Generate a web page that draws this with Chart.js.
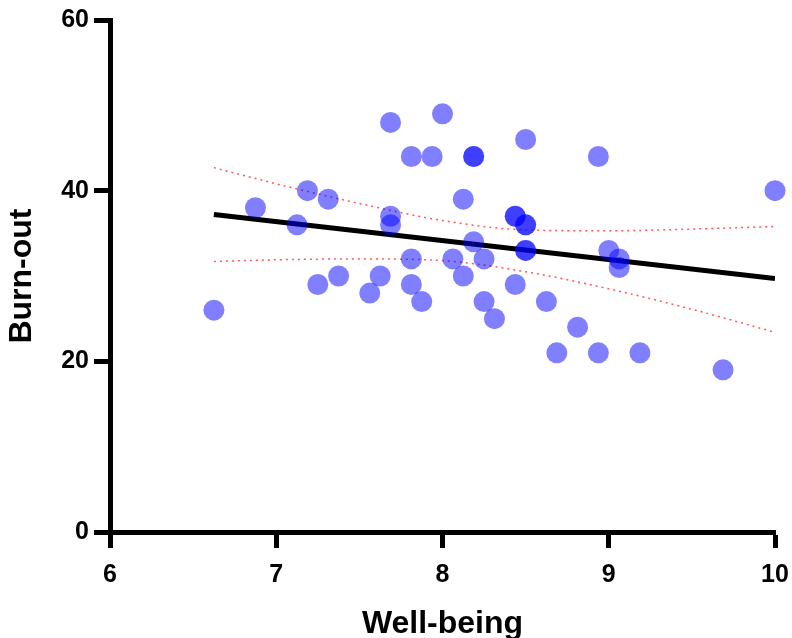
<!DOCTYPE html>
<html>
<head>
<meta charset="utf-8">
<script src="https://cdn.jsdelivr.net/npm/chart.js@4"></script>
<style>
  html, body { margin: 0; padding: 0; background: #fff; }
  #wrap { width: 792px; height: 638px; }
</style>
</head>
<body>
<div id="wrap"><canvas id="scatterChart" width="792" height="638"></canvas></div>
<script>
// data
const wellBeing = [6.625, 6.875, 7.125, 7.1875, 7.25, 7.3125, 7.375, 7.5625, 7.625, 7.6875,
  7.6875, 7.6875, 7.8125, 7.8125, 7.8125, 7.875, 7.9375, 8.0, 8.0625, 8.125,
  8.125, 8.1875, 8.1875, 8.1875, 8.25, 8.25, 8.3125, 8.4375, 8.4375, 8.4375,
  8.5, 8.5, 8.5, 8.5, 8.5, 8.625, 8.6875, 8.8125, 8.9375, 8.9375,
  9.0, 9.0625, 9.0625, 9.1875, 9.6875, 10];
const burnOut = [26, 38, 36, 40, 29, 39, 30, 28, 30, 48,
  37, 36, 44, 32, 29, 27, 44, 49, 32, 39,
  30, 44, 44, 34, 32, 27, 25, 37, 37, 29,
  46, 36, 36, 33, 33, 27, 21, 24, 44, 21,
  33, 32, 31, 21, 19, 40];

// linear fit and 95% band
const fitX = [6.625, 10];
const fitY = [37.2, 29.7];
const bandX = [6.625, 7, 7.5, 8, 8.5, 9, 9.5, 10];
const bandUpper = [42.7, 40.8, 38.5, 36.5, 35.4, 35.3, 35.5, 35.8];
const bandLower = [31.7, 31.9, 32.0, 31.8, 30.5, 28.5, 26.1, 23.4];

const xTicks = [6, 7, 8, 9, 10];
const yTicks = [0, 20, 40, 60];

function toPoints(xs, ys) {
  return xs.map((x, i) => ({ x: x, y: ys[i] }));
}

const FONT = "'Liberation Sans', Arial, Helvetica, sans-serif";

const ctx = document.getElementById("scatterChart");

new Chart(ctx, {
  type: "scatter",
  data: {
    datasets: [
      {
        label: "Burn-out",
        data: toPoints(wellBeing, burnOut),
        backgroundColor: "rgba(0, 0, 255, 0.5)",
        borderWidth: 0,
        pointRadius: 10.5,
        order: 0,
        clip: false,
      },
      {
        label: "Fit",
        data: toPoints(fitX, fitY),
        showLine: true,
        borderColor: "#000",
        borderWidth: 5,
        pointRadius: 0,
        order: 1,
      },
      {
        label: "Upper",
        data: toPoints(bandX, bandUpper),
        showLine: true,
        borderColor: "rgba(255, 70, 70, 0.9)",
        borderWidth: 1.5,
        borderDash: [2, 4],
        cubicInterpolationMode: "monotone",
        pointRadius: 0,
        order: 2,
      },
      {
        label: "Lower",
        data: toPoints(bandX, bandLower),
        showLine: true,
        borderColor: "rgba(255, 70, 70, 0.9)",
        borderWidth: 1.5,
        borderDash: [2, 4],
        cubicInterpolationMode: "monotone",
        pointRadius: 0,
        order: 2,
      },
    ],
  },
  options: {
    responsive: false,
    animation: false,
    layout: { padding: { top: 20, right: 17, left: 0, bottom: -5 } },
    plugins: {
      legend: { display: false },
      tooltip: { enabled: false },
    },
    scales: {
      x: {
        type: "linear",
        min: 6,
        max: 10,
        afterFit: (scale) => {
          scale.height = 111;
          scale.paddingLeft = 0;
          scale.paddingRight = 0;
        },
        afterBuildTicks: (scale) => { scale.ticks = xTicks.map((v) => ({ value: v })); },
        border: { display: true, color: "#000", width: 5 },
        grid: { drawOnChartArea: false, drawTicks: true, tickLength: 16, tickWidth: 5, tickColor: "#000" },
        ticks: { color: "#000", padding: 12, font: { family: FONT, size: 25, weight: "bold" } },
        title: {
          display: true,
          text: "Well-being",
          color: "#000",
          padding: { top: 0, bottom: 0 },
          font: { family: FONT, size: 32, weight: "bold" },
        },
      },
      y: {
        type: "linear",
        min: 0,
        max: 60,
        afterFit: (scale) => {
          scale.width = 110;
          scale.paddingTop = 0;
          scale.paddingBottom = 0;
        },
        afterBuildTicks: (scale) => { scale.ticks = yTicks.map((v) => ({ value: v })); },
        border: { display: true, color: "#000", width: 5 },
        grid: { drawOnChartArea: false, drawTicks: true, tickLength: 16, tickWidth: 5, tickColor: "#000" },
        ticks: { color: "#000", padding: 5, font: { family: FONT, size: 25, weight: "bold" } },
        title: {
          display: true,
          text: "Burn-out",
          color: "#000",
          padding: { top: 3, bottom: 0 },
          font: { family: FONT, size: 32, weight: "bold" },
        },
      },
    },
  },
});
</script>
</body>
</html>
